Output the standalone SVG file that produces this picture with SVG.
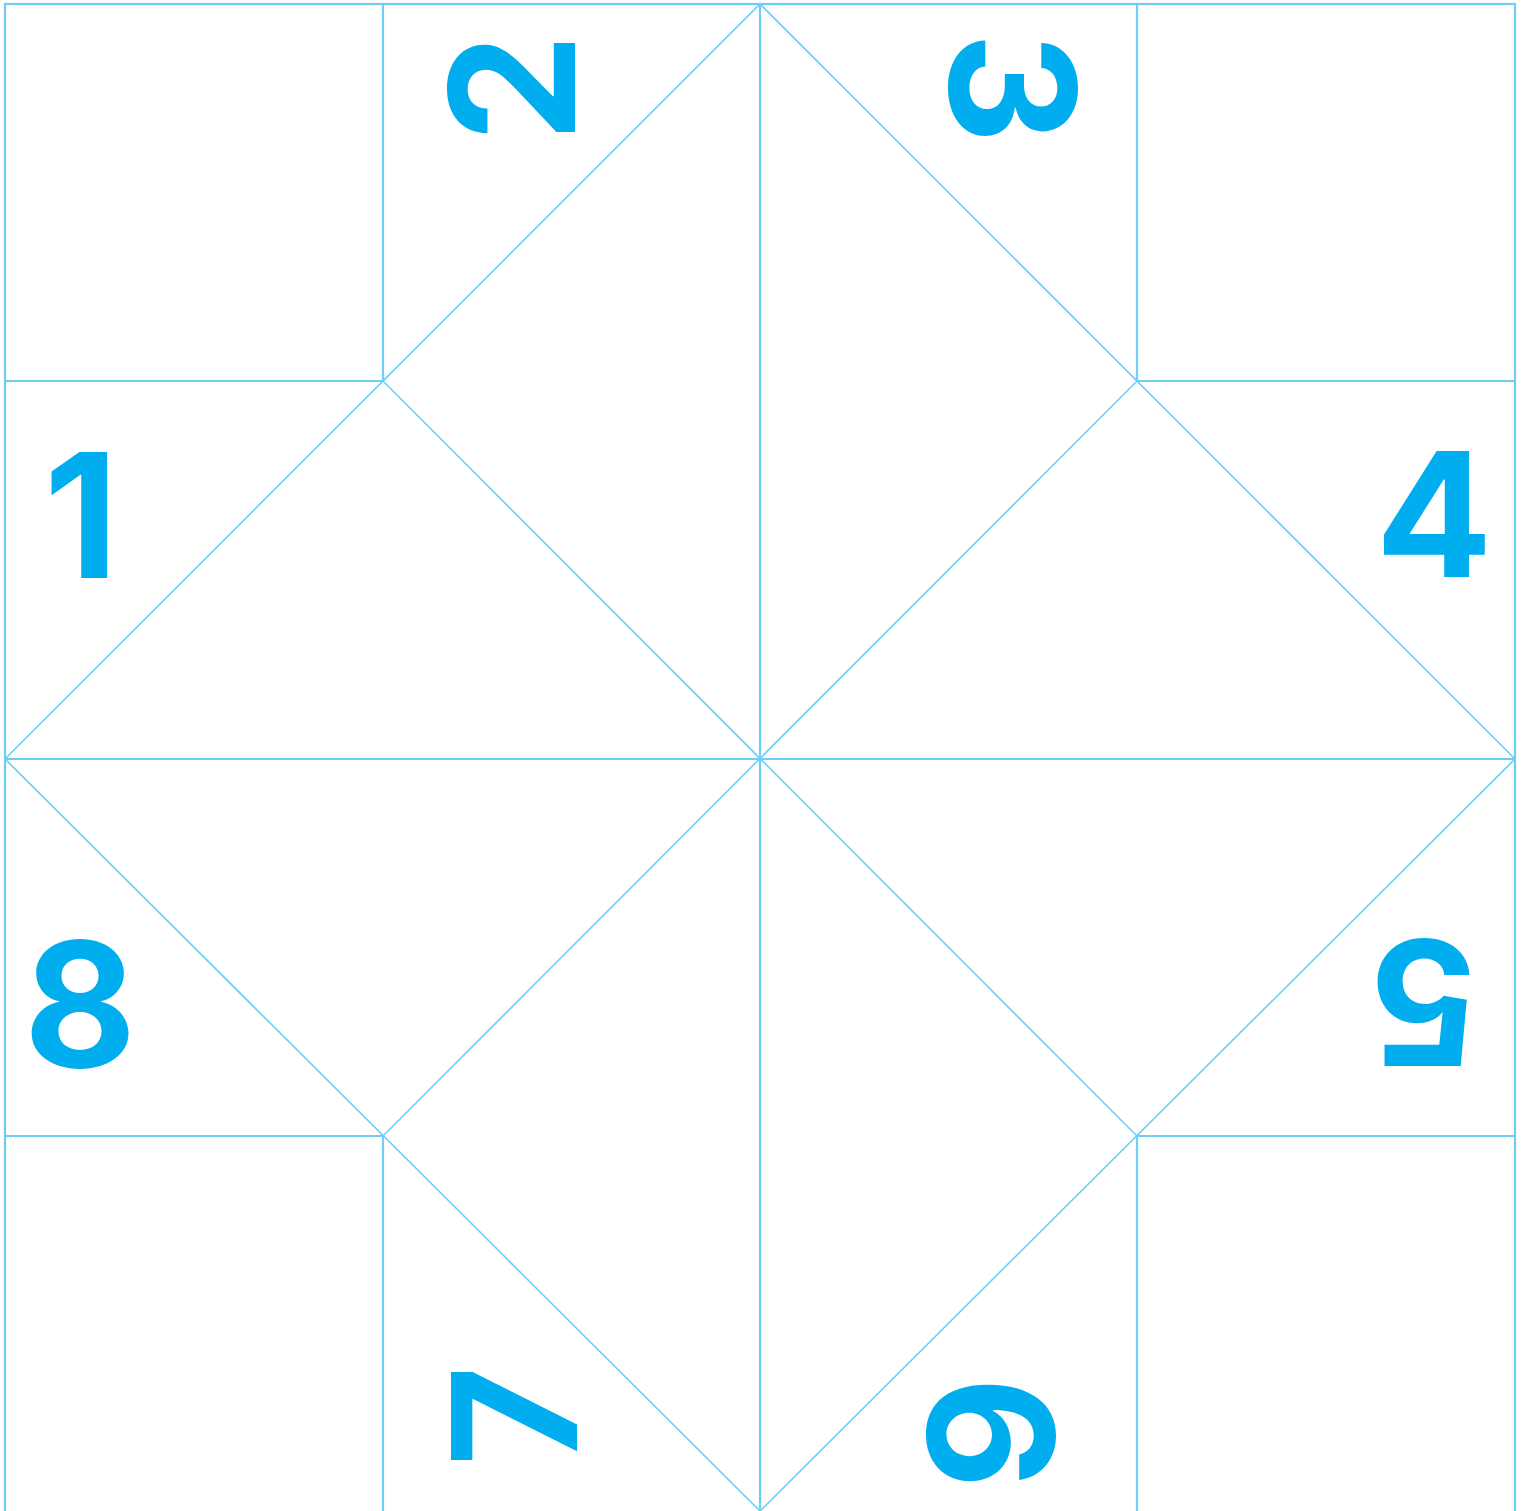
<svg xmlns="http://www.w3.org/2000/svg" width="1525" height="1511" viewBox="0 0 1525 1511">
<style>
.g{stroke:#6dcff6;stroke-width:2.2;fill:none}
.d{stroke:#6dcff6;stroke-width:1.6;fill:none}
.n{font-family:Inter,"Liberation Sans",sans-serif;font-weight:700;font-size:173px;fill:#00aeef;text-anchor:middle}
</style>
<rect width="1525" height="1511" fill="#ffffff"/>
<g id="grid">
<rect class="g" x="5" y="4" width="1510" height="1512"/>
<line class="g" x1="383" y1="4" x2="383" y2="381"/>
<line class="g" x1="1137" y1="4" x2="1137" y2="381"/>
<line class="g" x1="383" y1="1136" x2="383" y2="1511"/>
<line class="g" x1="1137" y1="1136" x2="1137" y2="1511"/>
<line class="g" x1="760" y1="4" x2="760" y2="1511"/>
<line class="g" x1="5" y1="381" x2="383" y2="381"/>
<line class="g" x1="1137" y1="381" x2="1515" y2="381"/>
<line class="g" x1="5" y1="1136" x2="383" y2="1136"/>
<line class="g" x1="1137" y1="1136" x2="1515" y2="1136"/>
<line class="g" x1="5" y1="759" x2="1515" y2="759"/>
</g>
<g id="connectors">
<polygon class="d" points="760,4 1515,759 760,1511 5,759"/>
<line class="d" x1="383" y1="381" x2="1137" y2="1136"/>
<line class="d" x1="1137" y1="381" x2="383" y2="1136"/>
</g>
<g id="n1"><text class="n" transform="translate(81,515)" y="63">1</text></g>
<g id="n2"><text class="n" transform="translate(512,88) rotate(-90)" y="63">2</text></g>
<g id="n3"><text class="n" transform="translate(1013,88) rotate(90)" y="63">3</text></g>
<g id="n4"><text class="n" transform="translate(1434,514)" y="63">4</text></g>
<g id="n5"><text class="n" transform="translate(1425,1003) rotate(180)" y="63">5</text></g>
<g id="n6"><text class="n" transform="translate(991,1433) rotate(90)" y="63">6</text></g>
<g id="n7"><text class="n" transform="translate(514,1416) rotate(-90)" y="63">7</text></g>
<g id="n8"><text class="n" transform="translate(80,1004)" y="63">8</text></g>
</svg>
